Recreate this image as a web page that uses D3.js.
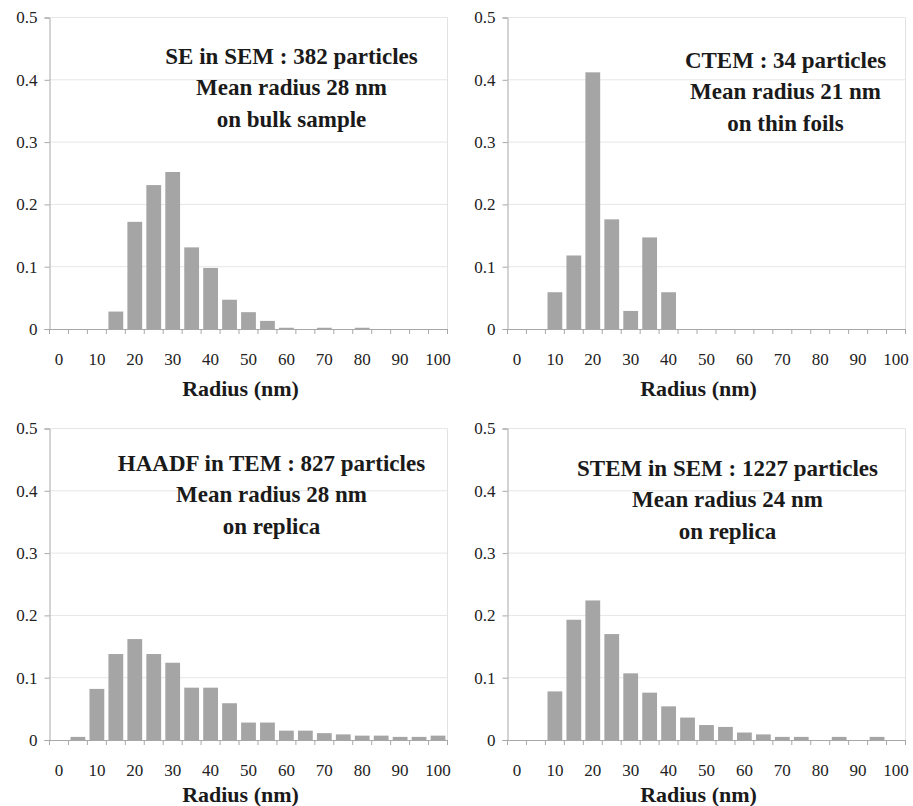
<!DOCTYPE html>
<html>
<head>
<meta charset="utf-8">
<script src="https://cdn.jsdelivr.net/npm/d3@7"></script>
<style>
  body { margin: 0; background: #fff; }
  svg { display: block; }
</style>
</head>
<body>
<svg id="chart" width="913" height="806"></svg>
<script>
// Radius classes (nm), one bar per class
const radiusBins = ['0', '5', '10', '15', '20', '25', '30', '35', '40', '45', '50',
  '55', '60', '65', '70', '75', '80', '85', '90', '95', '100'];
const xTickLabels = ['0', '10', '20', '30', '40', '50', '60', '70', '80', '90', '100'];
const yTicks = [0, 0.1, 0.2, 0.3, 0.4, 0.5];

// Frequencies
const seSem = [0, 0, 0, 0.028, 0.172, 0.231, 0.252, 0.131, 0.098, 0.047, 0.027,
  0.013, 0.002, 0, 0.002, 0, 0.002, 0, 0, 0, 0];
const ctem = [0, 0, 0.059, 0.118, 0.412, 0.176, 0.029, 0.147, 0.059, 0, 0,
  0, 0, 0, 0, 0, 0, 0, 0, 0, 0];
const haadfTem = [0, 0.005, 0.082, 0.138, 0.162, 0.138, 0.124, 0.084, 0.084, 0.059, 0.028,
  0.028, 0.015, 0.015, 0.011, 0.009, 0.007, 0.007, 0.005, 0.005, 0.007];
const stemSem = [0, 0, 0.078, 0.193, 0.224, 0.170, 0.107, 0.076, 0.054, 0.036, 0.024,
  0.021, 0.012, 0.009, 0.005, 0.005, 0, 0.005, 0, 0.005, 0];

const seSemNote = ['SE in SEM : 382 particles', 'Mean radius 28 nm', 'on bulk sample'];
const ctemNote = ['CTEM : 34 particles', 'Mean radius 21 nm', 'on thin foils'];
const haadfNote = ['HAADF in TEM : 827 particles', 'Mean radius 28 nm', 'on replica'];
const stemNote = ['STEM in SEM : 1227 particles', 'Mean radius 24 nm', 'on replica'];

const xTitle = 'Radius (nm)';

const FONT = 'Liberation Serif';

const svg = d3.select('#chart')
  .attr('font-family', FONT);

// Plot area size, same for all four panels
const plotWidth = 398;
const plotHeight = 311.5;

// Panel layout: left/top of plot area, where the note block sits, and gap to the axis title
const panels = [
  { values: seSem, note: seSemNote, left: 49.5, top: 17.5, noteX: 242, noteY: 46, titleGap: 67 },
  { values: ctem, note: ctemNote, left: 507.5, top: 17.5, noteX: 278, noteY: 50, titleGap: 67 },
  { values: haadfTem, note: haadfNote, left: 49.5, top: 428.5, noteX: 222, noteY: 42, titleGap: 62 },
  { values: stemSem, note: stemNote, left: 507.5, top: 428.5, noteX: 220, noteY: 47, titleGap: 62 },
];

function styleAxis(axisG) {
  // replace the default sans-serif 10px that d3 puts on the axis group
  axisG.attr('font-family', FONT).attr('font-size', 17);
  axisG.select('.domain').attr('stroke', '#a8a8a8');
  axisG.selectAll('.tick line').attr('stroke', '#a8a8a8');
  axisG.selectAll('text')
    .attr('font-family', FONT)
    .attr('font-size', 17)
    .attr('fill', '#222');
}

function drawPanel(p) {
  const g = svg.append('g')
    .attr('transform', `translate(${p.left},${p.top})`);

  const x = d3.scaleBand()
    .domain(radiusBins)
    .range([0, plotWidth])
    .paddingInner(0.22)
    .paddingOuter(0.11);

  const y = d3.scaleLinear()
    .domain([0, 0.5])
    .range([plotHeight, 0]);

  // Light gridlines and frame
  g.selectAll('.grid')
    .data(yTicks.filter(d => d > 0))
    .enter().append('line')
    .attr('x1', 0)
    .attr('x2', plotWidth)
    .attr('y1', d => y(d))
    .attr('y2', d => y(d))
    .attr('stroke', '#e6e6e6')
    .attr('stroke-width', 1);

  g.append('line')
    .attr('x1', plotWidth).attr('x2', plotWidth)
    .attr('y1', 0).attr('y2', plotHeight)
    .attr('stroke', '#e2e2e2');

  // Bars
  g.selectAll('.bar')
    .data(p.values.map((v, i) => ({ bin: radiusBins[i], v })))
    .enter().append('rect')
    .attr('x', d => x(d.bin))
    .attr('width', x.bandwidth())
    .attr('y', d => y(d.v))
    .attr('height', d => plotHeight - y(d.v))
    .attr('fill', '#a5a5a5');

  // Y axis
  const yAxis = g.append('g')
    .call(d3.axisLeft(y)
      .tickValues(yTicks)
      .tickSize(5)
      .tickPadding(7)
      .tickFormat(d => (d === 0 ? '0' : d.toFixed(1))));
  styleAxis(yAxis);

  // X axis: labels every other bin, tick marks at bin boundaries
  const xAxis = g.append('g')
    .attr('transform', `translate(0,${plotHeight})`)
    .call(d3.axisBottom(x)
      .tickValues(xTickLabels)
      .tickSize(0)
      .tickPadding(24)
      .tickSizeOuter(0));
  styleAxis(xAxis);

  xAxis.selectAll('.bound')
    .data(d3.range(radiusBins.length + 1))
    .enter().append('line')
    .attr('x1', i => x.range()[0] + i * x.step())
    .attr('x2', i => x.range()[0] + i * x.step())
    .attr('y1', 0)
    .attr('y2', 5)
    .attr('stroke', '#a8a8a8');

  // Axis title
  g.append('text')
    .attr('font-family', FONT)
    .attr('font-size', 22)
    .attr('font-weight', 'bold')
    .attr('fill', '#1a1a1a')
    .attr('x', plotWidth / 2 - 8)
    .attr('y', plotHeight + p.titleGap)
    .attr('text-anchor', 'middle')
    .text(xTitle);

  // Note block
  g.append('text')
    .attr('font-family', FONT)
    .attr('font-size', 23)
    .attr('font-weight', 'bold')
    .attr('fill', '#1a1a1a')
    .attr('text-anchor', 'middle')
    .selectAll('tspan')
    .data(p.note)
    .enter().append('tspan')
    .attr('x', p.noteX)
    .attr('y', (d, i) => p.noteY + i * 31.5)
    .text(d => d);
}

panels.forEach(drawPanel);
</script>
</body>
</html>
